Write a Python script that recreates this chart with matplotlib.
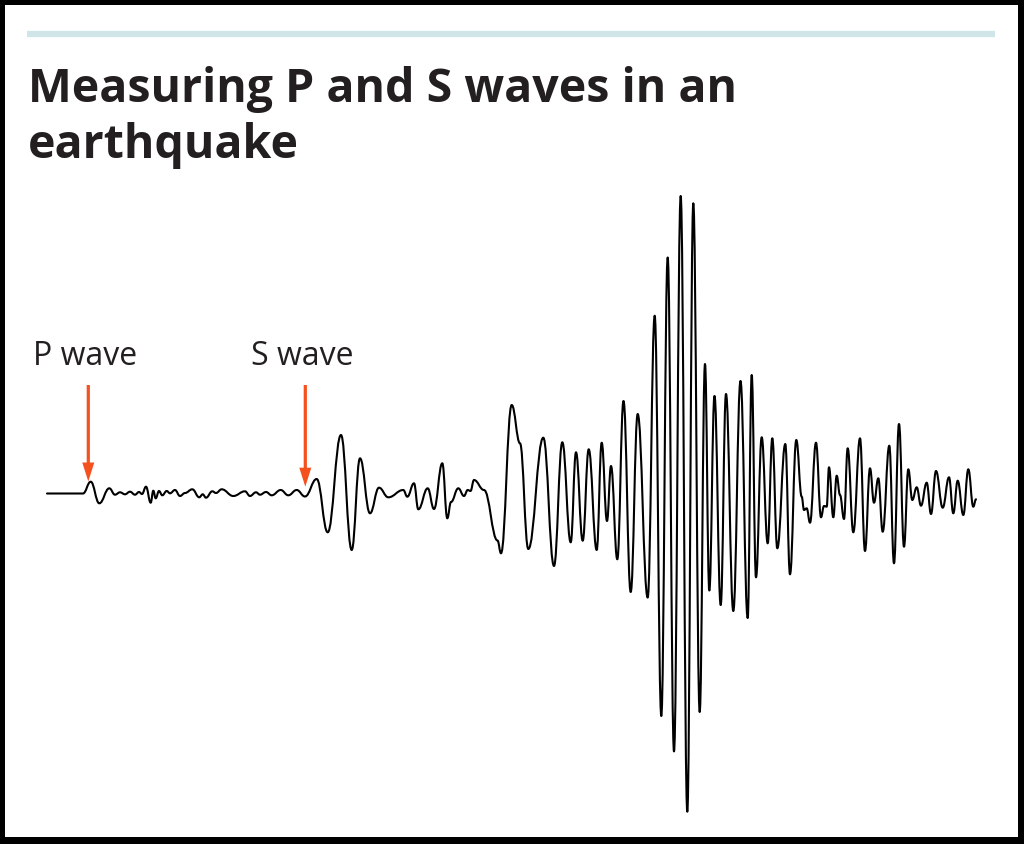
"""
Seismogram: Measuring P and S waves in an earthquake
"""
import matplotlib
matplotlib.use("Agg")
import matplotlib.pyplot as plt
from matplotlib.path import Path
from matplotlib.patches import PathPatch, FancyArrow

# peaks / troughs of the trace
# t = horizontal position (px), amp = displacement above the rest line (px)
t = [47, 83, 90.7, 99.3, 109.3, 115, 120, 125, 130, 135, 139, 142, 146, 150.7,
     153.3, 155.7, 159, 162.3, 166.7, 170, 175, 180, 185, 192.3, 199.3, 202.7,
     206, 212.3, 216, 221.7, 233.3, 245, 250, 256, 260, 266, 271.7, 280.7,
     288.3, 296.7, 305, 316.7, 327.7, 341, 351.7, 360, 370, 379, 388.3, 403.3,
     407.3, 414, 418.3, 427.7, 434, 442.3, 447.3, 451, 458.3, 464, 467.7, 470.5,
     474, 484, 497.5, 501, 511.7, 520, 528.3, 543.3, 554, 562.3, 570.7, 576, 582.7,
     588.7, 596.7, 601.7, 607, 611, 617.3, 623.5, 630.7, 637.7, 647.7, 654.7,
     661.3, 667.7, 674, 680.7, 687.3, 693.3, 699.7, 705, 709.3, 714.5, 720.7,
     726, 733.3, 740.5, 747.7, 751.7, 756, 761.7, 767.7, 772.3, 777.3, 785.3,
     790, 796.3, 801.7, 804, 806.7, 810, 816, 821, 824, 826.7, 829, 833.3,
     836.7, 840, 844, 847.7, 853.3, 860, 865, 870, 874, 878.3, 882.7, 889.3,
     894, 899, 904, 908.3, 912.3, 916.7, 921, 926.7, 931, 936, 942.7, 949,
     953.3, 957.7, 963.3, 968.3, 973.3, 976]
amp = [0, 0, 11.8, -9.8, 5.2, -1.2, 1.2, -0.8, 1.8, -1.2, 1.5, -0.5, 6.8, -9.2,
       2.8, -4.8, 2.5, -1.8, 2.5, 0.2, 3.5, -2.5, 0.5, 4.2, -3.8, -0.8,
       -4.2, 2.2, 0.5, 4.2, -2.5, 2.2, -2.5, 1.2, -1.2, 1.5, -1.8, 3.5,
       -1.8, 3.5, -3.0, 14.5, -38.8, 58.5, -56.5, 35.2, -19.8, 5.8, -3.8, 3.5,
       -3.2, 10.2, -15.8, 5.2, -15.5, 30.2, -24.8, -8.5, 5.2, -2.5, 3.5, 2.5,
       13.5, 3.5, -47, -59.8, 88.5, 50.2, -55.5, 55.8, -72.5, 51.2, -48.8, 41.2, -47.2,
       44.2, -56.5, 50.8, -27.5, 27.5, -65.8, 92.5, -98.5, 79.5, -104.1, 177.8,
       -222.5, 236, -257.9, 297.5, -318.2, 290.2, -218.5, 129.5, -97, 97.5, -111.5,
       99.5, -117.5, 112.5, -124.5, 118.5, -83.8, 56.2, -49.8, 55.2, -54.8, 49.5,
       -80.8, 53.5, -3.2, -16.5, -14.8, -29.2, 50.8, -23.8, -12.5, -13.2, 26.2, -23.8,
       17.8, -1.5, -25.5, 45.2, -38.8, 55.2, -57.5, 25.2, -9.2, 15.2, -38.2, 47.8,
       -69.8, 69.5, -53.2, 24.2, -6.5, 6.2, -12.2, 10.8, -20.5, 22.5, -14.2, 16.2,
       -19.8, 12.8, -21.5, 24.2, -13.2, -5.8]

labels = ["P wave", "S wave"]
label_x = [33.3, 250.7]
arrival_t = [88.3, 305.3]
arrival_tip = [12.0, 6.8]

TITLE = ["Measuring P and S waves in an", "earthquake"]
ORANGE = "#F4511E"
TEAL = "#CFE5E7"
INK = "#231F20"
FONT = "Open Sans"

fig = plt.figure(figsize=(10.24, 8.44), dpi=100, facecolor="black")
# white card inside the black frame
ax = fig.add_axes([5 / 1024, 7 / 844, 1013 / 1024, 832 / 844])
ax.set_facecolor("white")
ax.set_xlim(5, 1018)
ax.set_ylim(493.5 - 837, 493.5 - 5)
ax.set_xticks([])
ax.set_yticks([])
for s in ax.spines.values():
    s.set_visible(False)

# smooth trace: each extremum joined with a flat-tangent bezier
verts = [(t[0], amp[0])]
codes = [Path.MOVETO]
for i in range(1, len(t)):
    d = (t[i] - t[i - 1]) * 0.42
    verts += [(t[i - 1] + d, amp[i - 1]), (t[i] - d, amp[i]), (t[i], amp[i])]
    codes += [Path.CURVE4] * 3
ax.add_patch(PathPatch(Path(verts, codes), fill=False, edgecolor="black",
                       lw=1.5, capstyle="round", joinstyle="round"))

# arrows + labels
for x0, tip in zip(arrival_t, arrival_tip):
    ax.add_patch(FancyArrow(x0, 108.5, 0, tip - 108.5, width=3.2, head_width=12,
                            head_length=19, length_includes_head=True,
                            color=ORANGE, lw=0))
for lab, lx in zip(labels, label_x):
    ax.text(lx, 128.5, lab, fontsize=23, family=FONT, color=INK, va="baseline")

# header rule + title
ax.plot([27, 995], [459.5, 459.5], color=TEAL, lw=4.5, solid_capstyle="butt")
ax.text(28, 391.5, TITLE[0], fontsize=33.5, family=FONT, weight="bold",
        color=INK, va="baseline")
ax.text(28, 335.5, TITLE[1], fontsize=33.5, family=FONT, weight="bold",
        color=INK, va="baseline")

plt.savefig("out.png", dpi=100, facecolor=fig.get_facecolor())
plt.close()
